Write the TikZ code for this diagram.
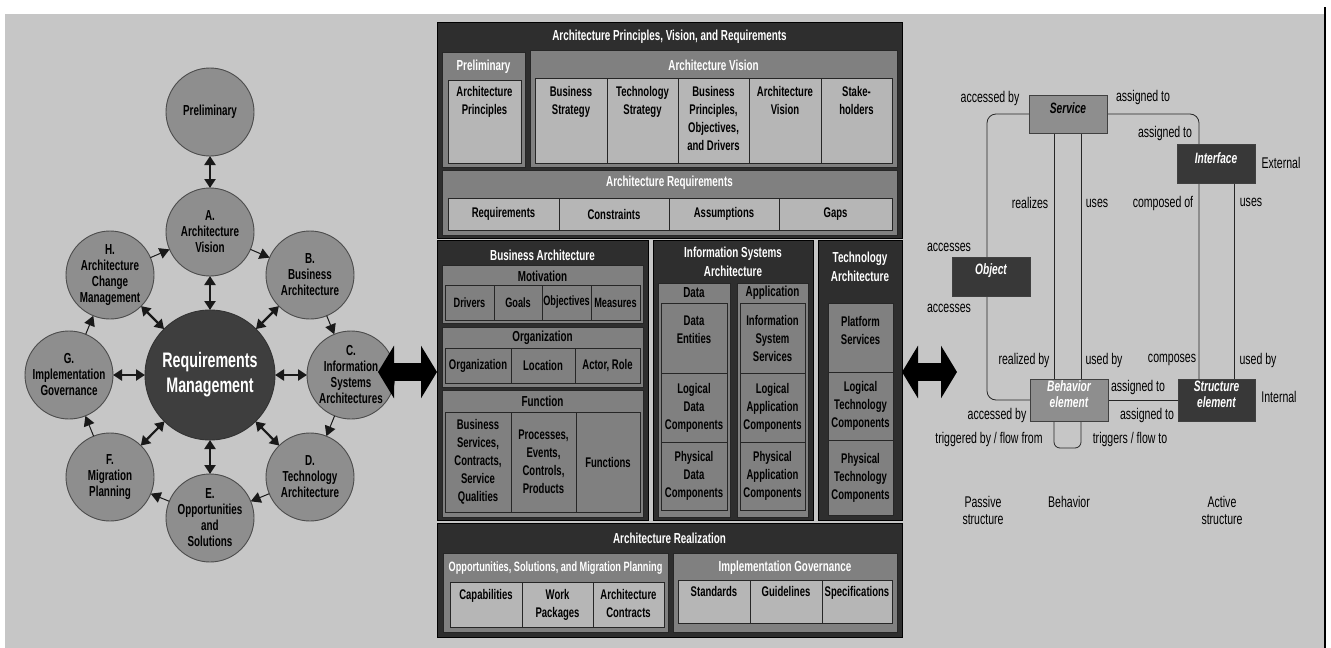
\documentclass[tikz,border=0pt]{standalone}
\usepackage{fontspec}
\newfontfamily\cf{Liberation Sans}[FakeStretch=0.68]
\usetikzlibrary{fit,arrows.meta,calc}
\definecolor{bgg}{HTML}{C6C6C6}
\definecolor{circg}{HTML}{8E8E8E}
\definecolor{ctr}{HTML}{3E3E3E}
\definecolor{darkb}{HTML}{2E2E2E}
\definecolor{midb}{HTML}{808080}
\definecolor{lightc}{HTML}{B6B6B6}
\definecolor{rdark}{HTML}{383838}
\pgfdeclarelayer{back}\pgfdeclarelayer{mid}\pgfsetlayers{back,mid,main}
\newcommand\mycellt[8]{%
  \node[#1, fit={(#3,#4)(#5,#6)}] (#2) {};
  \node[ctxt, anchor=north] (#2t) at ([yshift=-#7pt]#2.north) {#8};}
\newcommand\mycellc[7]{%
  \node[#1, fit={(#3,#4)(#5,#6)}] (#2) {};
  \node[ctxt] (#2t) at (#2.center) {#7};}
\begin{document}
\begin{tikzpicture}[x=1pt,y=-1pt,
  every node/.style={outer sep=0pt},
  phase/.style={circle, draw=black!70, line width=0.9pt, fill=circg, minimum size=88pt, inner sep=0pt, align=center, font=\cf\bfseries\fontsize{14.5}{16}\selectfont},
  core/.style={circle, draw=black!80, line width=0.9pt, fill=ctr, minimum size=130pt, inner sep=0pt, align=center, text=white, font=\cf\bfseries\fontsize{21}{25}\selectfont},
  dbl/.style={{Triangle[length=9pt,width=11pt]}-{Triangle[length=9pt,width=11pt]}, line width=2.2pt, black!90},
  cyc/.style={-{Triangle[length=10pt,width=11pt]}, line width=1pt, black!90},
  bigarr/.style={{Triangle[length=16pt,width=52pt]}-{Triangle[length=16pt,width=52pt]}, line width=18pt, black},
  darkbox/.style={fill=darkb, draw=black, line width=1pt, inner sep=0pt},
  midbox/.style={fill=midb, draw=black!85, line width=0.8pt, inner sep=0pt},
  lcell/.style={fill=lightc, draw=black!85, line width=0.7pt, inner sep=0pt},
  mcell/.style={fill=midb, draw=black!85, line width=0.7pt, inner sep=0pt},
  ctxt/.style={inner sep=0pt, align=center, text=black, font=\cf\bfseries\fontsize{14}{18}\selectfont},
  wtitle/.style={inner sep=0pt, align=center, text=white, font=\cf\bfseries\fontsize{14.5}{19}\selectfont},
  btitle/.style={inner sep=0pt, align=center, text=black, font=\cf\bfseries\fontsize{14.5}{19}\selectfont},
  rbox/.style={draw=black!75, line width=0.7pt, inner sep=0pt, align=center, font=\cf\bfseries\itshape\fontsize{15}{16}\selectfont},
  graybox/.style={rbox, fill=circg},
  darkrbox/.style={rbox, fill=rdark, text=white},
  conn/.style={line width=0.8pt, black!85},
  rl/.style={inner sep=0pt, align=center, font=\cf\fontsize{15.5}{17}\selectfont}
]
\useasboundingbox (0,0) rectangle (1331,648);
\begin{pgfonlayer}{back}
  \fill[bgg] (5,14) rectangle (1325,648);
  \draw[line width=1.5pt] (1325,7) -- (1325,648);
\end{pgfonlayer}

% ---------------- left: ADM cycle ----------------
\node[core] (rm) at (210,375) {Requirements\\Management};
\node[phase] (pre) at (210,112) {Preliminary};
\node[phase] (A) at (210,232) {A.\\Architecture\\Vision};
\node[phase] (B) at (310,275) {B.\\Business\\Architecture};
\node[phase] (C) at (351,375) {C.\\Information\\Systems\\Architectures};
\node[phase] (D) at (310,477) {D.\\Technology\\Architecture};
\node[phase] (E) at (210,518) {E.\\Opportunities\\and\\Solutions};
\node[phase] (F) at (110,477) {F.\\Migration\\Planning};
\node[phase] (G) at (69,375) {G.\\Implementation\\Governance};
\node[phase] (H) at (110,275) {H.\\Architecture\\Change\\Management};

\draw[dbl] (pre) -- (A);
\foreach \p in {A,B,C,D,E,F,G,H} \draw[dbl] (rm) -- (\p);
\draw[cyc] (A) -- (B);
\draw[cyc] (B) -- (C);
\draw[cyc] (C) -- (D);
\draw[cyc] (D) -- (E);
\draw[cyc] (E) -- (F);
\draw[cyc] (F) -- (G);
\draw[cyc] (G) -- (H);
\draw[cyc] (H) -- (A);

% ---------------- middle: content framework ----------------
\node[darkbox, fit={(437,22)(902,238)}] (apvr) {};
\node[wtitle] (apvrT) at (669.5,37) {Architecture Principles, Vision, and Requirements};
\node[midbox, fit={(442,52)(525,167)}] (prel) {};
\node[wtitle] (prelT) at (483.5,67) {Preliminary};
\mycellt{lcell}{ap}{448}{80}{521}{163}{6}{Architecture\\Principles}
\node[midbox, fit={(530,50)(897,167)}] (vis) {};
\node[wtitle] (visT) at (713.5,65) {Architecture Vision};
\mycellt{lcell}{va}{535}{78}{607}{163}{8}{Business\\Strategy}
\mycellt{lcell}{vb}{607}{78}{678}{163}{8}{Technology\\Strategy}
\mycellt{lcell}{vc}{678}{78}{749}{163}{8}{Business\\Principles,\\Objectives,\\and Drivers}
\mycellt{lcell}{vd}{749}{78}{821}{163}{8}{Architecture\\Vision}
\mycellt{lcell}{ve}{821}{78}{892}{163}{8}{Stake-\\holders}
\node[midbox, fit={(442,170)(897,235)}] (req) {};
\node[wtitle] (reqT) at (669.5,183) {Architecture Requirements};
\mycellc{lcell}{ra}{448}{198}{559}{230}{Requirements}
\mycellc{lcell}{rb}{559}{198}{669}{230}{Constraints}
\mycellc{lcell}{rc}{669}{198}{779}{230}{Assumptions}
\mycellc{lcell}{rd}{779}{198}{892}{230}{Gaps}

% Business architecture
\node[darkbox, fit={(437,240)(648,520)}] (ba) {};
\node[wtitle] (baT) at (542.5,255) {Business Architecture};
\node[midbox, fit={(442,265)(643,323)}] (mot) {};
\node[btitle] (motT) at (542.5,276) {Motivation};
\mycellc{mcell}{ma}{445}{285}{494}{320}{\fontsize{13.5}{16}\selectfont Drivers}
\mycellc{mcell}{mb}{494}{285}{542}{320}{\fontsize{13.5}{16}\selectfont Goals}
\mycellc{mcell}{mc}{542}{285}{591}{320}{\fontsize{13.5}{16}\selectfont Objectives}
\mycellc{mcell}{md}{591}{285}{640}{320}{\fontsize{13.5}{16}\selectfont Measures}
\node[midbox, fit={(442,327)(643,387)}] (org) {};
\node[btitle] (orgT) at (542.5,338) {Organization};
\mycellc{mcell}{oa}{445}{348}{511}{383}{Organization}
\mycellc{mcell}{ob}{511}{348}{575}{383}{Location}
\mycellc{mcell}{oc}{575}{348}{640}{383}{Actor, Role}
\node[midbox, fit={(442,390)(643,517)}] (fun) {};
\node[btitle] (funT) at (542.5,401) {Function};
\mycellc{mcell}{fa}{445}{412}{511}{512}{Business\\Services,\\Contracts,\\Service\\Qualities}
\mycellc{mcell}{fb}{511}{412}{576}{512}{Processes,\\Events,\\Controls,\\Products}
\mycellc{mcell}{fc}{576}{412}{640}{512}{Functions}

% Information systems architecture
\node[darkbox, fit={(653,240)(813,520)}] (isa) {};
\node[wtitle] (isaT) at (733,262) {Information Systems\\Architecture};
\node[midbox, fit={(658,283)(730,517)}] (dat) {};
\node[btitle] (datT) at (694,293) {Data};
\mycellt{mcell}{da}{661}{303}{727}{373}{13}{Data\\Entities}
\mycellc{mcell}{db}{661}{373}{727}{442}{Logical\\Data\\Components}
\mycellc{mcell}{dc}{661}{442}{727}{510}{Physical\\Data\\Components}
\node[midbox, fit={(737,283)(808,517)}] (app) {};
\node[btitle] (appT) at (772.5,293) {Application};
\mycellc{mcell}{aa}{740}{303}{805}{373}{Information\\System\\Services}
\mycellc{mcell}{ab}{740}{373}{805}{442}{Logical\\Application\\Components}
\mycellc{mcell}{ac}{740}{442}{805}{510}{Physical\\Application\\Components}

% Technology architecture
\node[darkbox, fit={(818,240)(902,520)}] (ta) {};
\node[wtitle] (taT) at (860,267) {Technology\\Architecture};
\mycellt{mcell}{tp}{828}{303}{893}{372}{13}{Platform\\Services}
\mycellc{mcell}{tl}{828}{372}{893}{440}{Logical\\Technology\\Components}
\mycellc{mcell}{tq}{828}{440}{893}{515}{Physical\\Technology\\Components}

% Architecture realization
\node[darkbox, fit={(437,523)(902,637)}] (real) {};
\node[wtitle] (realT) at (669.5,538) {Architecture Realization};
\node[midbox, fit={(443,553)(668,632)}] (opp) {};
\node[wtitle, font=\cf\bfseries\fontsize{13.5}{15}\selectfont] (oppT) at (555.5,568) {Opportunities, Solutions, and Migration Planning};
\mycellt{lcell}{pa}{450}{582}{522}{627}{7}{Capabilities}
\mycellt{lcell}{pb}{522}{582}{593}{627}{7}{Work\\Packages}
\mycellt{lcell}{pc}{593}{582}{664}{627}{7}{Architecture\\Contracts}
\node[midbox, fit={(673,553)(897,632)}] (imp) {};
\node[wtitle] (impT) at (785,568) {Implementation Governance};
\mycellt{lcell}{ia}{678}{580}{750}{623}{6}{Standards}
\mycellt{lcell}{ib}{750}{580}{822}{623}{6}{Guidelines}
\mycellt{lcell}{ic}{822}{580}{892}{623}{6}{Specifications}

% big arrows
\coordinate (bl) at (378,372);
\draw[bigarr] (bl) -- (bl -| ba.west);
\coordinate (br) at (957,372);
\draw[bigarr] (br -| ta.east) -- (br);

% ---------------- right: metamodel ----------------
\node[graybox, fit={(1029,95)(1107,133)}] (service) {Service};
\node[darkrbox, fit={(1177,144)(1255,183)}] (interface) {Interface};
\node[darkrbox, fit={(952,257)(1030,296)}] (object) {Object};
\node[graybox, text=white, fit={(1030,379)(1108,421)}] (behavior) {Behavior\\element};
\node[darkrbox, fit={(1178,379)(1255,421)}] (structure) {Structure\\element};

\coordinate (lx) at (987,0);
\coordinate (rx) at (1199,0);
\coordinate (ux) at (1234,0);
\coordinate (b1) at (1054,0);
\coordinate (b2) at (1081,0);
\coordinate (lp) at (0,448);
\begin{pgfonlayer}{mid}
  \draw[conn, rounded corners=9pt] (service.west) -| (lx |- behavior.west) -- (behavior.west);
  \draw[conn, rounded corners=9pt] (service.east) -| (rx |- structure.north);
  \draw[conn] (interface.south -| ux) -- (structure.north -| ux);
  \draw[conn] (service.south -| b1) -- (behavior.north -| b1);
  \draw[conn] (service.south -| b2) -- (behavior.north -| b2);
  \draw[conn] (behavior.east) -- (structure.west);
  \draw[conn, rounded corners=6pt] (behavior.south -| b1) -- (b1 |- lp) -- (b2 |- lp) -- (behavior.south -| b2);
\end{pgfonlayer}

\node[rl] (l1) at (990,98) {accessed by};
\node[rl] (l2) at (1143,97) {assigned to};
\node[rl] (l3) at (1165,133) {assigned to};
\node[rl] (l4) at (1281,163) {External};
\node[rl] (l5) at (1030,203) {realizes};
\node[rl] (l6) at (1097,203) {uses};
\node[rl] (l7) at (1163,203) {composed of};
\node[rl] (l8) at (1251,202) {uses};
\node[rl] (l9) at (949,247) {accesses};
\node[rl] (l10) at (949,308) {accesses};
\node[rl] (l11) at (1024,360) {realized by};
\node[rl] (l12) at (1104,360) {used by};
\node[rl] (l13) at (1172,360) {composes};
\node[rl] (l14) at (1258,360) {used by};
\node[rl] (l15) at (1138,387) {assigned to};
\node[rl] (l16) at (1279,397) {Internal};
\node[rl] (l17) at (997,415) {accessed by};
\node[rl] (l18) at (1147,415) {assigned to};
\node[rl] (l19) at (989,439) {triggered by / flow from};
\node[rl] (l20) at (1130,439) {triggers / flow to};
\node[rl] (l21) at (983,510) {Passive\\structure};
\node[rl] (l22) at (1069,502) {Behavior};
\node[rl] (l23) at (1222,510) {Active\\structure};
\end{tikzpicture}
\end{document}
